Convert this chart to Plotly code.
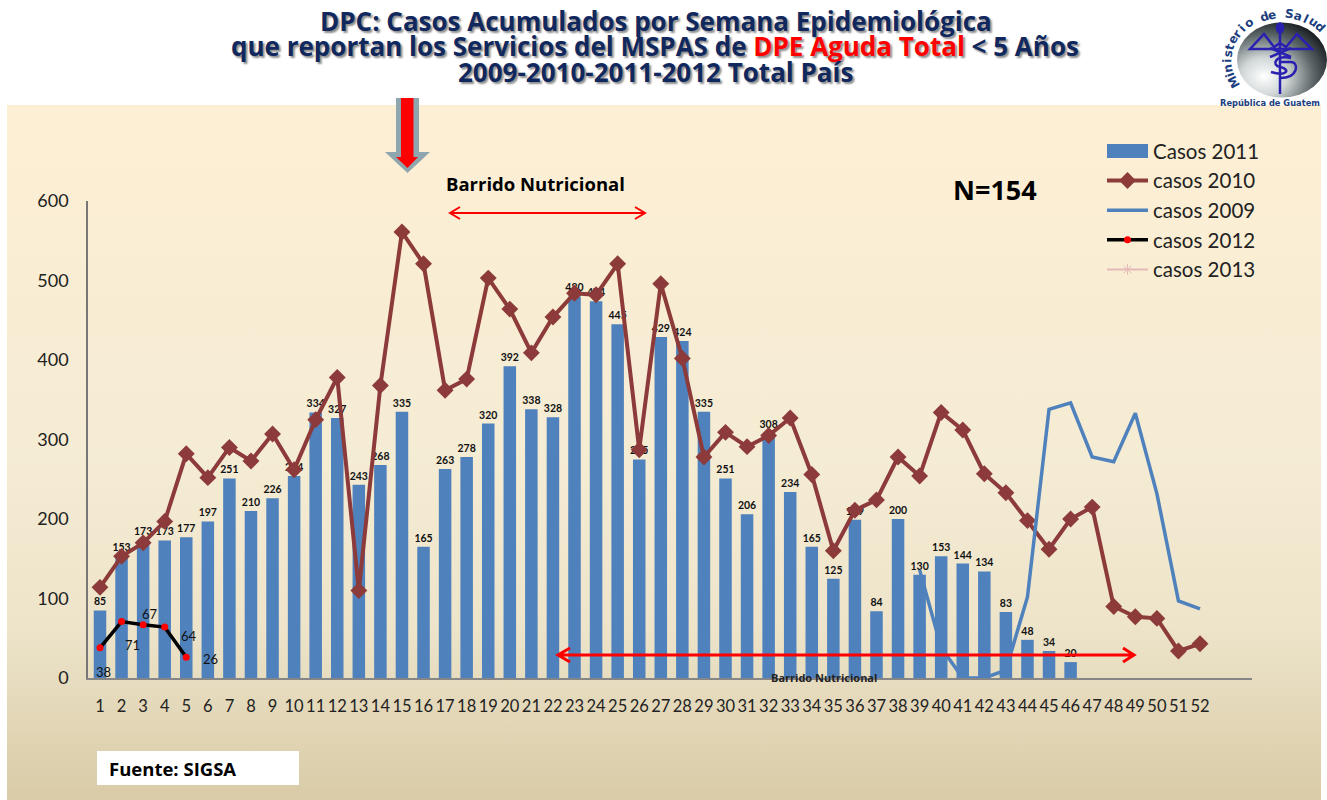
import base64
import math
import plotly.graph_objects as go

weeks = list(range(1, 53))
casos_2011 = [85,153,173,173,177,197,251,210,226,254,334,327,243,268,335,165,263,278,320,392,338,328,480,474,445,275,429,424,335,251,206,308,234,165,125,199,84,200,130,153,144,134,83,48,34,20] + [None]*6
casos_2010 = [114,153,170,197,282,252,290,273,307,262,325,378,110,368,561,521,362,376,503,464,409,454,484,482,521,287,496,402,278,309,291,305,327,256,160,211,224,278,254,334,312,257,233,198,162,200,215,90,77,75,34,43]
casos_2009 = [None]*38 + [136,38,0,0,10,102,338,346,278,272,333,232,97,87]
casos_2012 = [38,71,67,64,26] + [None]*47
casos_2013 = [None]*52
labels_2012 = ["38","71","67","64","26"]
y_ticks = [0,100,200,300,400,500,600]

W, H = 1327, 800
L, R, T, B = 88, 1252, 201, 678
FONT = "Lato"
WIDE = "Open Sans"
BLUE = "#4F81BD"; BROWN = "#8C3A3A"; INK = "#222222"

def px(x): return (x - L) / (R - L)
def py(y): return (B - y) / (B - T)
def path(points, close=False):
    return "M " + " L ".join(f"{px(a):.5f},{py(b):.5f}" for a, b in points) + (" Z" if close else "")
def svg_uri(svg):
    return "data:image/svg+xml;base64," + base64.b64encode(svg.encode()).decode()

panel_svg = ('<svg xmlns="http://www.w3.org/2000/svg" width="1314" height="695" preserveAspectRatio="none">'
 '<defs><linearGradient id="g" x1="0" y1="0" x2="0" y2="1">'
 '<stop offset="0" stop-color="#FDEFD4"/><stop offset="0.5" stop-color="#F5ECD4"/>'
 '<stop offset="0.75" stop-color="#EDE4CA"/><stop offset="1" stop-color="#D9CBA7"/>'
 '</linearGradient></defs><rect width="1314" height="695" fill="url(#g)"/></svg>')

logo_svg = ('<svg xmlns="http://www.w3.org/2000/svg" width="90" height="76" viewBox="0 0 90 76">'
 '<defs><radialGradient id="s" cx="0.3" cy="0.72" r="0.85">'
 '<stop offset="0" stop-color="#FFFFFF"/><stop offset="0.3" stop-color="#D0D6D6"/>'
 '<stop offset="0.65" stop-color="#5C6668"/><stop offset="1" stop-color="#080C10"/>'
 '</radialGradient></defs><ellipse cx="45" cy="38" rx="45" ry="37.5" fill="url(#s)"/>'
 '<g fill="none" stroke="#2A20B0" stroke-width="2.5">'
 '<path d="M43 8 V72"/><ellipse cx="43" cy="6" rx="3" ry="4.5" fill="#2A20B0"/>'
 '<path d="M13 27 L27 12 L37 25 L43 21 L49 25 L60 12 L75 27 Z"/>'
 '<path d="M33 26 L54 35 M54 26 L33 35"/>'
 '<path d="M54 36 C38 33 34 43 43 45 C54 47 50 55 34 50"/>'
 '<path d="M43 40 H54 C62 40 62 56 43 56"/></g></svg>')

fig = go.Figure()
fig.add_trace(go.Bar(x=weeks, y=casos_2011, name="Casos 2011", marker=dict(color=BLUE, line_width=0),
    text=casos_2011, textposition="outside", constraintext="none", textangle=0, cliponaxis=False,
    textfont=dict(family=FONT, size=10.5, color="#111111", weight="bold")))
fig.add_trace(go.Scatter(x=weeks, y=casos_2010, name="casos 2010", mode="lines+markers",
    line=dict(color=BROWN, width=4), marker=dict(symbol="diamond", size=13, color=BROWN), cliponaxis=False))
fig.add_trace(go.Scatter(x=weeks, y=casos_2009, name="casos 2009", mode="lines",
    line=dict(color=BLUE, width=3.5), cliponaxis=False))
fig.add_trace(go.Scatter(x=weeks, y=casos_2012, name="casos 2012", mode="lines+markers",
    line=dict(color="#000000", width=3.5), marker=dict(symbol="circle", size=7, color="#FF0000"), cliponaxis=False))
fig.add_trace(go.Scatter(x=weeks, y=casos_2013, name="casos 2013", mode="lines+markers",
    line=dict(color="#E6B9B8", width=2),
    marker=dict(symbol="asterisk", size=9, color="#E6B9B8", line=dict(color="#E6B9B8", width=1))))

ann = []
def text(x, y, s, size, color="#000000", bold=False, family=WIDE, xanchor="center", **kw):
    font = dict(family=family, size=size, color=color)
    if bold: font["weight"] = "bold"
    font.update(kw.pop("fontx", {}))
    ann.append(dict(xref="paper", yref="paper", x=px(x), y=py(y), text=s, showarrow=False,
                    xanchor=xanchor, yanchor="middle", font=font, **kw))

SHADOW = dict(shadow="2px 2px 2px #8C8C8C")
NAVY = "#10285E"
text(656, 21, "DPC: Casos Acumulados por Semana Epidemiológica", 26, NAVY, True, fontx=SHADOW)
text(655, 46, 'que reportan los Servicios del MSPAS de <span style="color:#FF0000">DPE Aguda Total</span> &lt; 5 Años', 26, NAVY, True, fontx=SHADOW)
text(655, 72, "2009-2010-2011-2012 Total País", 26, NAVY, True, fontx=SHADOW)
text(535, 183, "Barrido Nutricional", 18.5, "#000000", True)
text(824, 677, "Barrido Nutricional", 11, "#222222", True)
text(995, 189, "N=154", 27, "#000000", True)
text(107, 768, "Fuente: SIGSA", 18.5, "#000000", True, xanchor="left")

# 2012 value labels, tied to the data points
shifts_2012 = [(4, -24), (11, -23), (7, 11), (24, -9), (24, -2)]
for w, v, t, (dx, dy) in zip(weeks, casos_2012, labels_2012, shifts_2012):
    ann.append(dict(x=w, y=v, xref="x", yref="y", text=t, showarrow=False, xshift=dx, yshift=dy,
                    font=dict(family=FONT, size=13, color="#111111")))

# logo lettering
cx, cy, ra, rb = 1282, 60, 55, 46
arc = "Ministerio de Salud"
for i, ch in enumerate(arc):
    if ch == " ": continue
    th = math.radians(-118 + i * 9.0)
    text(cx + ra*math.sin(th), cy - rb*math.cos(th), ch, 12, "#1C3E7E", True, family="DejaVu Sans",
         textangle=math.degrees(th))
text(1218, 103, "República de Guatem", 8.3, "#1C3E7E", True, family="DejaVu Sans", xanchor="left")

shapes = [
    dict(type="rect", xref="paper", yref="paper", x0=px(97), x1=px(299), y0=py(785), y1=py(751),
         fillcolor="#FFFFFF", line_width=0, layer="below"),
    # legend swatch for the bars
    dict(type="rect", xref="paper", yref="paper", x0=px(1107), x1=px(1148), y0=py(158), y1=py(144),
         fillcolor=BLUE, line_width=0, layer="above"),
    # big arrow
    dict(type="path", xref="paper", yref="paper", line_width=0, fillcolor="#8EA6AD",
         path=path([(396,98),(419,98),(419,152),(430,152),(407.5,173),(385,152),(396,152)], True)),
    dict(type="path", xref="paper", yref="paper", line_width=0, fillcolor="#FF0000",
         path=path([(401,98),(413.5,98),(413.5,157),(418,157),(407.5,168),(396,157),(401,157)], True)),
    # Barrido arrows
    dict(type="path", xref="paper", yref="paper", line=dict(color="#FF0000", width=2),
         path=path([(450,213),(645,213)]) + " " + path([(460,207),(450,213),(460,219)]) + " " + path([(635,207),(645,213),(635,219)])),
    dict(type="path", xref="paper", yref="paper", line=dict(color="#FF0000", width=3),
         path=path([(558,655),(1134,655)]) + " " + path([(570,648),(558,655),(570,662)]) + " " + path([(1123,648),(1134,655),(1123,662)])),
]

images = [
    dict(source=svg_uri(panel_svg), xref="paper", yref="paper", x=px(7), y=py(105), sizex=1314/(R-L), sizey=695/(B-T),
         xanchor="left", yanchor="top", sizing="stretch", layer="below"),
    dict(source=svg_uri(logo_svg), xref="paper", yref="paper", x=px(1237), y=py(22), sizex=90/(R-L), sizey=76/(B-T),
         xanchor="left", yanchor="top", sizing="stretch", layer="below"),
]

fig.update_layout(
    width=W, height=H, margin=dict(l=L, r=W-R, t=T, b=H-B, pad=0, autoexpand=False),
    paper_bgcolor="#FFFFFF", plot_bgcolor="rgba(0,0,0,0)", bargap=0.42,
    font=dict(family=FONT, color=INK),
    annotations=ann, shapes=shapes, images=images,
    legend=dict(x=px(1102), y=py(131), xanchor="left", yanchor="top", bgcolor="rgba(0,0,0,0)",
                itemwidth=41, font=dict(family=FONT, size=20.5, color=INK), traceorder="normal"),
    xaxis=dict(range=[0.444, 54.41], tickmode="array", tickvals=weeks, ticktext=[str(w) for w in weeks],
               showgrid=False, zeroline=False, showline=True, linecolor="#868686", linewidth=1.5, ticks="",
               ticklabelstandoff=12, tickangle=0, tickfont=dict(family=FONT, size=16.5, color=INK)),
    yaxis=dict(range=[0, 600], tickmode="array", tickvals=y_ticks, showgrid=False, zeroline=False,
               showline=True, linecolor="#777777", linewidth=1.5, ticks="", ticklabelstandoff=14,
               tickfont=dict(family=FONT, size=18, color=INK)),
)

fig.write_html("out.html", config={"displayModeBar": False}, post_script="document.body.style.margin='0';")
